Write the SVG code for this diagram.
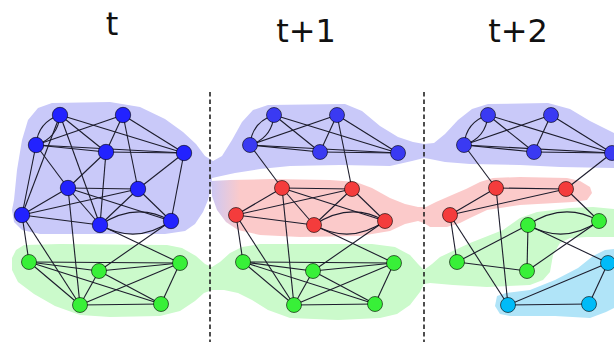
<svg xmlns="http://www.w3.org/2000/svg" width="614" height="342" viewBox="0 0 614 342">
<style>
.title{font-family:"DejaVu Sans",sans-serif;font-size:32px;fill:#111}
.e{stroke:#1c1c2c;stroke-width:1.1;fill:none}
.n{stroke:#000;stroke-opacity:.6;stroke-width:1}
.b0{fill:#2222ff}.b{fill:#3a3af2}.r{fill:#f43c3c}.g{fill:#38f038}.c{fill:#00bbf8}
.dash{stroke:#222;stroke-width:1.6;stroke-dasharray:4.5 3}
</style>
<defs>
<linearGradient id="redGrad" gradientUnits="userSpaceOnUse" x1="210" y1="0" x2="240" y2="0">
<stop offset="0" stop-color="#cbc8f6"/><stop offset="1" stop-color="#fbcaca"/>
</linearGradient>
</defs>
<g id="hulls">
<polygon id="hull-blue" fill="#c9c9f9" points="14,200 17,170 22,140 28,120 38,108 52,103 110,102 140,107 165,119 183,132 196,144 205,156 213,161 222,156 232,140 242,122 253,110 268,105 345,104 362,111 380,126 398,137 413,142 424,144 434,143 445,134 458,120 472,109 488,104 548,103 570,109 590,121 614,133 614,168 560,167 520,165 470,164 445,162 430,159 424,158 412,161 390,166 340,165 290,166 260,169 235,173 212,178 211,188 208,200 203,212 195,224 185,231 165,234 40,234 22,230 14,222 12,210"/>
<polygon id="hull-red" fill="url(#redGrad)" points="211,181 230,180 272,179 330,180 356,182 372,188 390,198 405,204 418,207 426,207 436,202 452,195 466,189 480,182 493,178 520,177 567,178 580,181 590,187 592,193 587,200 573,202 520,205 487,210 470,218 460,223 447,227 430,227 424,223 418,221 405,224 390,231 360,236 300,237 260,235 238,230 226,222 217,210 212,196"/>
<polygon id="hull-green" fill="#cbfacb" points="16,250 24,245 60,244 167,245 182,248 196,256 205,264 212,267 220,262 230,253 242,247 260,244 372,244 395,247 410,255 418,264 424,270 432,264 440,257 470,243 503,230 520,218 537,212 570,208 593,207 614,209 614,237 587,237 570,238 560,243 553,255 550,272 543,280 530,285 487,287 453,285 430,283 424,284 420,292 410,305 397,314 380,318 338,320 290,318 268,310 252,300 238,293 224,290 212,290 204,293 195,301 180,311 160,316 110,317 80,315 55,306 34,294 18,282 12,270 12,258"/>
<polygon id="hull-cyan" fill="#b0e4f8" points="497,296 506,293 530,290 555,280 578,268 593,256 605,250 614,249 614,308 606,312 590,318 555,316 510,316 500,314 495,306"/>
</g>
<g id="separators">
<line class="dash" x1="210" y1="92" x2="210" y2="342"/>
<line class="dash" x1="424" y1="92" x2="424" y2="342"/>
</g>
<g id="titles">
<text class="title" x="112" y="35" text-anchor="middle">t</text>
<text class="title" x="306" y="42" text-anchor="middle">t+1</text>
<text class="title" x="518" y="42" text-anchor="middle">t+2</text>
</g>
<g id="connectors">
<path class="e" d="M60,115 Q58,138 36,145 M60,115 Q38,122 36,145 M100,225 Q136.5,201 171,221 M100,225 Q136.5,245 171,221"/>
<path class="e" d="M274,115 Q272,138 250,145 M274,115 Q252,122 250,145 M314,225 Q350.5,201 385,221 M314,225 Q350.5,245 385,221"/>
<path class="e" d="M488,115 Q486,138 464,145 M488,115 Q466,122 464,145 M528,225 Q564,201 599,221 M528,225 Q564,245 599,221"/>
<line class="e" x1="60" y1="115" x2="106" y2="152"/>
<line class="e" x1="60" y1="115" x2="184" y2="153"/>
<line class="e" x1="60" y1="115" x2="22" y2="215"/>
<line class="e" x1="60" y1="115" x2="100" y2="225"/>
<line class="e" x1="123" y1="115" x2="36" y2="145"/>
<line class="e" x1="123" y1="115" x2="106" y2="152"/>
<line class="e" x1="123" y1="115" x2="184" y2="153"/>
<line class="e" x1="123" y1="115" x2="138" y2="189"/>
<line class="e" x1="36" y1="145" x2="106" y2="152"/>
<line class="e" x1="36" y1="145" x2="184" y2="153"/>
<line class="e" x1="36" y1="145" x2="68" y2="188"/>
<line class="e" x1="36" y1="145" x2="22" y2="215"/>
<line class="e" x1="106" y1="152" x2="184" y2="153"/>
<line class="e" x1="106" y1="152" x2="68" y2="188"/>
<line class="e" x1="106" y1="152" x2="100" y2="225"/>
<line class="e" x1="184" y1="153" x2="138" y2="189"/>
<line class="e" x1="184" y1="153" x2="171" y2="221"/>
<line class="e" x1="68" y1="188" x2="138" y2="189"/>
<line class="e" x1="68" y1="188" x2="22" y2="215"/>
<line class="e" x1="68" y1="188" x2="100" y2="225"/>
<line class="e" x1="68" y1="188" x2="171" y2="221"/>
<line class="e" x1="138" y1="189" x2="22" y2="215"/>
<line class="e" x1="138" y1="189" x2="100" y2="225"/>
<line class="e" x1="138" y1="189" x2="171" y2="221"/>
<line class="e" x1="22" y1="215" x2="100" y2="225"/>
<line class="e" x1="22" y1="215" x2="29" y2="262"/>
<line class="e" x1="22" y1="215" x2="80" y2="305"/>
<line class="e" x1="68" y1="188" x2="80" y2="305"/>
<line class="e" x1="100" y1="225" x2="180" y2="263"/>
<line class="e" x1="171" y1="221" x2="99" y2="271"/>
<line class="e" x1="29" y1="262" x2="99" y2="271"/>
<line class="e" x1="29" y1="262" x2="180" y2="263"/>
<line class="e" x1="29" y1="262" x2="80" y2="305"/>
<line class="e" x1="29" y1="262" x2="161" y2="304"/>
<line class="e" x1="99" y1="271" x2="180" y2="263"/>
<line class="e" x1="99" y1="271" x2="80" y2="305"/>
<line class="e" x1="99" y1="271" x2="161" y2="304"/>
<line class="e" x1="180" y1="263" x2="80" y2="305"/>
<line class="e" x1="180" y1="263" x2="161" y2="304"/>
<line class="e" x1="80" y1="305" x2="161" y2="304"/>
<line class="e" x1="274" y1="115" x2="320" y2="152"/>
<line class="e" x1="274" y1="115" x2="398" y2="153"/>
<line class="e" x1="337" y1="115" x2="250" y2="145"/>
<line class="e" x1="337" y1="115" x2="320" y2="152"/>
<line class="e" x1="337" y1="115" x2="398" y2="153"/>
<line class="e" x1="250" y1="145" x2="320" y2="152"/>
<line class="e" x1="250" y1="145" x2="398" y2="153"/>
<line class="e" x1="320" y1="152" x2="398" y2="153"/>
<line class="e" x1="250" y1="145" x2="282" y2="188"/>
<line class="e" x1="337" y1="115" x2="352" y2="189"/>
<line class="e" x1="282" y1="188" x2="352" y2="189"/>
<line class="e" x1="282" y1="188" x2="236" y2="215"/>
<line class="e" x1="282" y1="188" x2="314" y2="225"/>
<line class="e" x1="282" y1="188" x2="385" y2="221"/>
<line class="e" x1="352" y1="189" x2="236" y2="215"/>
<line class="e" x1="352" y1="189" x2="314" y2="225"/>
<line class="e" x1="352" y1="189" x2="385" y2="221"/>
<line class="e" x1="236" y1="215" x2="314" y2="225"/>
<line class="e" x1="236" y1="215" x2="243" y2="262"/>
<line class="e" x1="236" y1="215" x2="294" y2="305"/>
<line class="e" x1="282" y1="188" x2="294" y2="305"/>
<line class="e" x1="314" y1="225" x2="394" y2="263"/>
<line class="e" x1="385" y1="221" x2="313" y2="271"/>
<line class="e" x1="243" y1="262" x2="313" y2="271"/>
<line class="e" x1="243" y1="262" x2="394" y2="263"/>
<line class="e" x1="243" y1="262" x2="294" y2="305"/>
<line class="e" x1="243" y1="262" x2="375" y2="304"/>
<line class="e" x1="313" y1="271" x2="394" y2="263"/>
<line class="e" x1="313" y1="271" x2="294" y2="305"/>
<line class="e" x1="313" y1="271" x2="375" y2="304"/>
<line class="e" x1="394" y1="263" x2="294" y2="305"/>
<line class="e" x1="394" y1="263" x2="375" y2="304"/>
<line class="e" x1="294" y1="305" x2="375" y2="304"/>
<line class="e" x1="488" y1="115" x2="534" y2="152"/>
<line class="e" x1="488" y1="115" x2="612" y2="153"/>
<line class="e" x1="551" y1="115" x2="464" y2="145"/>
<line class="e" x1="551" y1="115" x2="534" y2="152"/>
<line class="e" x1="551" y1="115" x2="612" y2="153"/>
<line class="e" x1="464" y1="145" x2="534" y2="152"/>
<line class="e" x1="464" y1="145" x2="612" y2="153"/>
<line class="e" x1="534" y1="152" x2="612" y2="153"/>
<line class="e" x1="464" y1="145" x2="496" y2="188"/>
<line class="e" x1="612" y1="153" x2="566" y2="189"/>
<line class="e" x1="496" y1="188" x2="566" y2="189"/>
<line class="e" x1="496" y1="188" x2="450" y2="215"/>
<line class="e" x1="566" y1="189" x2="450" y2="215"/>
<line class="e" x1="496" y1="188" x2="508" y2="305"/>
<line class="e" x1="450" y1="215" x2="457" y2="262"/>
<line class="e" x1="450" y1="215" x2="508" y2="305"/>
<line class="e" x1="566" y1="189" x2="599" y2="221"/>
<line class="e" x1="528" y1="225" x2="457" y2="262"/>
<line class="e" x1="528" y1="225" x2="527" y2="271"/>
<line class="e" x1="599" y1="221" x2="527" y2="271"/>
<line class="e" x1="457" y1="262" x2="527" y2="271"/>
<line class="e" x1="528" y1="225" x2="608" y2="263"/>
<line class="e" x1="608" y1="263" x2="508" y2="305"/>
<line class="e" x1="608" y1="263" x2="589" y2="304"/>
<line class="e" x1="508" y1="305" x2="589" y2="304"/>
</g>
<g id="nodes-t">
<g id="t-b1"><circle class="n b0" cx="60" cy="115" r="7.7"/></g>
<g id="t-b2"><circle class="n b0" cx="123" cy="115" r="7.7"/></g>
<g id="t-b3"><circle class="n b0" cx="36" cy="145" r="7.7"/></g>
<g id="t-b4"><circle class="n b0" cx="106" cy="152" r="7.7"/></g>
<g id="t-b5"><circle class="n b0" cx="184" cy="153" r="7.7"/></g>
<g id="t-b6"><circle class="n b0" cx="68" cy="188" r="7.7"/></g>
<g id="t-b7"><circle class="n b0" cx="138" cy="189" r="7.7"/></g>
<g id="t-b8"><circle class="n b0" cx="22" cy="215" r="7.7"/></g>
<g id="t-b9"><circle class="n b0" cx="100" cy="225" r="7.7"/></g>
<g id="t-b10"><circle class="n b0" cx="171" cy="221" r="7.7"/></g>
<g id="t-g1"><circle class="n g" cx="29" cy="262" r="7.5"/></g>
<g id="t-g2"><circle class="n g" cx="99" cy="271" r="7.5"/></g>
<g id="t-g3"><circle class="n g" cx="180" cy="263" r="7.5"/></g>
<g id="t-g4"><circle class="n g" cx="80" cy="305" r="7.5"/></g>
<g id="t-g5"><circle class="n g" cx="161" cy="304" r="7.5"/></g>
</g>
<g id="nodes-t1">
<g id="t1-b1"><circle class="n b" cx="274" cy="115" r="7.5"/></g>
<g id="t1-b2"><circle class="n b" cx="337" cy="115" r="7.5"/></g>
<g id="t1-b3"><circle class="n b" cx="250" cy="145" r="7.5"/></g>
<g id="t1-b4"><circle class="n b" cx="320" cy="152" r="7.5"/></g>
<g id="t1-b5"><circle class="n b" cx="398" cy="153" r="7.5"/></g>
<g id="t1-r1"><circle class="n r" cx="282" cy="188" r="7.5"/></g>
<g id="t1-r2"><circle class="n r" cx="352" cy="189" r="7.5"/></g>
<g id="t1-r3"><circle class="n r" cx="236" cy="215" r="7.5"/></g>
<g id="t1-r4"><circle class="n r" cx="314" cy="225" r="7.5"/></g>
<g id="t1-r5"><circle class="n r" cx="385" cy="221" r="7.5"/></g>
<g id="t1-g1"><circle class="n g" cx="243" cy="262" r="7.5"/></g>
<g id="t1-g2"><circle class="n g" cx="313" cy="271" r="7.5"/></g>
<g id="t1-g3"><circle class="n g" cx="394" cy="263" r="7.5"/></g>
<g id="t1-g4"><circle class="n g" cx="294" cy="305" r="7.5"/></g>
<g id="t1-g5"><circle class="n g" cx="375" cy="304" r="7.5"/></g>
</g>
<g id="nodes-t2">
<g id="t2-b1"><circle class="n b" cx="488" cy="115" r="7.5"/></g>
<g id="t2-b2"><circle class="n b" cx="551" cy="115" r="7.5"/></g>
<g id="t2-b3"><circle class="n b" cx="464" cy="145" r="7.5"/></g>
<g id="t2-b4"><circle class="n b" cx="534" cy="152" r="7.5"/></g>
<g id="t2-b5"><circle class="n b" cx="612" cy="153" r="7.5"/></g>
<g id="t2-r1"><circle class="n r" cx="496" cy="188" r="7.5"/></g>
<g id="t2-r2"><circle class="n r" cx="566" cy="189" r="7.5"/></g>
<g id="t2-r3"><circle class="n r" cx="450" cy="215" r="7.5"/></g>
<g id="t2-g1"><circle class="n g" cx="528" cy="225" r="7.5"/></g>
<g id="t2-g2"><circle class="n g" cx="599" cy="221" r="7.5"/></g>
<g id="t2-g3"><circle class="n g" cx="457" cy="262" r="7.5"/></g>
<g id="t2-g4"><circle class="n g" cx="527" cy="271" r="7.5"/></g>
<g id="t2-c1"><circle class="n c" cx="608" cy="263" r="7.5"/></g>
<g id="t2-c2"><circle class="n c" cx="508" cy="305" r="7.5"/></g>
<g id="t2-c3"><circle class="n c" cx="589" cy="304" r="7.5"/></g>
</g>
</svg>
